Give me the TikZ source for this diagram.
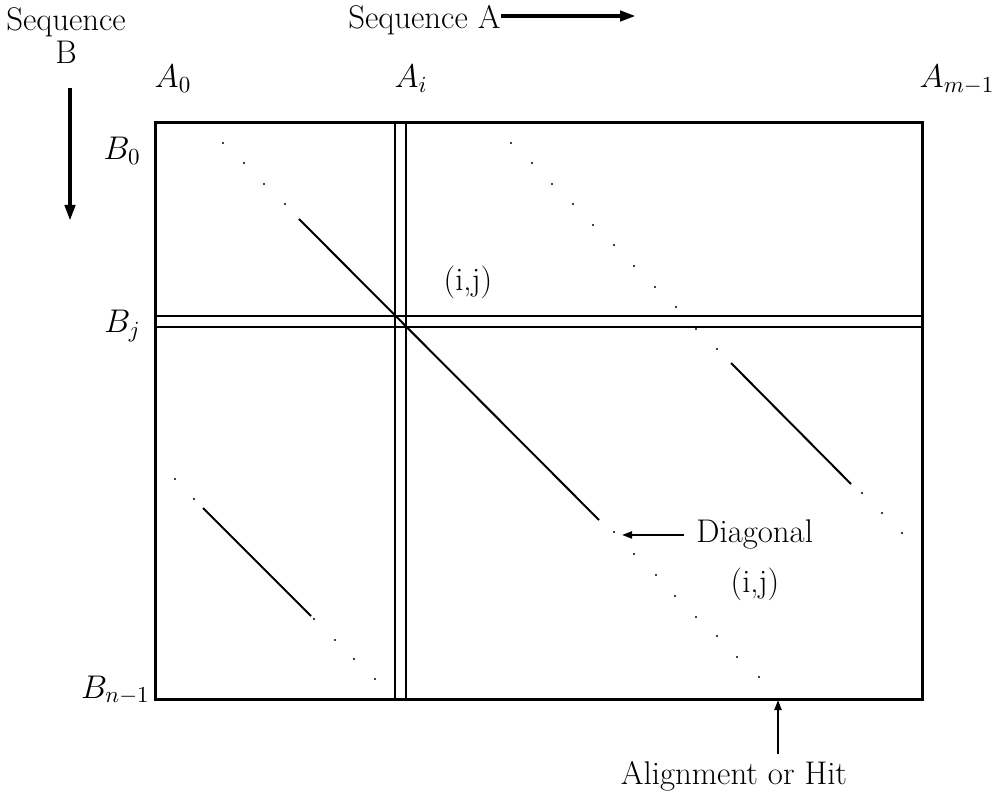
\RequirePackage{fix-cm}
\documentclass[tikz,border=0pt]{standalone}
\usetikzlibrary{arrows.meta,positioning}
\tikzset{
 frame/.style={line width=1.5pt},
 rule/.style={line width=1pt},
 run/.style={line width=1pt},
 lbl/.style={inner sep=0pt,anchor=base},
 seqarr/.style={-{Triangle[length=8pt,width=5pt]},line width=2pt},
 note/.style={-{Triangle[length=5pt,width=3.5pt]},line width=1pt}
}
\begin{document}
\begin{tikzpicture}[x=.5pt,y=-.5pt,font=\fontsize{16.4}{16.5}\selectfont]
\useasboundingbox (0,0) rectangle (1001,806);
\node[lbl,anchor=north,align=center] (seqB) at (66,7) {Sequence\\B};
\coordinate (Btop) at (70,88);
\coordinate (Bbot) at (70,221);
\draw[seqarr] (Btop) -- (Bbot);
\node[lbl,anchor=base west,text depth=0pt] (seqA) at (348,29) {Sequence A};
\coordinate (seqAend) at (636,16);
\draw[seqarr] (seqA.east |- seqAend) -- (seqAend);
\foreach \x/\name/\txt in {173/A0/{A_0},411/Ai/{A_i},957/Am/{A_{m-1}}}
 \node[lbl] (\name) at (\x,88) {$\txt$};
\foreach \x/\y/\name/\txt in {141/160/B0/{B_0},141/333/Bj/{B_j},150/698/Bn/{B_{n-1}}}
 \node[lbl,anchor=base east] (\name) at (\x,\y) {$\txt$};
\draw[frame] (155,123) rectangle (922,699);
\foreach \x in {395,406}
 \draw[rule] (\x,123) -- (\x,699);
\foreach \y in {316,327}
 \draw[rule] (155,\y) -- (922,\y);
\foreach \xa/\ya/\xb/\yb in {299/219/599/520,731/363/851/484,203/508/311/616}
 \draw[run] (\xa,\ya) -- (\xb,\yb);
\foreach \x/\y in {223/143,244/163,264/184,285/204,614/532,634/554,656/575,675/596,696/617,717/636,737/657,759/677,
 511/143,532/163,552/184,573/204,593/225,614/245,634/266,655/287,676/307,696/329,717/349,862/493,882/513,902/533,
 175/479,194/499,314/619,335/640,354/659,375/679}
 \fill (\x,\y) circle (.55pt);
\node[lbl] (cellij) at (468,291) {(i,j)};
\node[lbl,anchor=base west,inner xsep=6pt] (diag) at (684,543) {Diagonal};
\node[lbl] (diagij) at (755,593) {(i,j)};
\coordinate (diagtip) at (622,533);
\draw[note] (diag.west) -- (diag.west -| diagtip);
\node[lbl,inner ysep=3pt] (hit) at (734,784) {Alignment or Hit};
\coordinate (hittip) at (778,700);
\draw[note] (hit.north -| hittip) -- (hittip);
\end{tikzpicture}
\end{document}
